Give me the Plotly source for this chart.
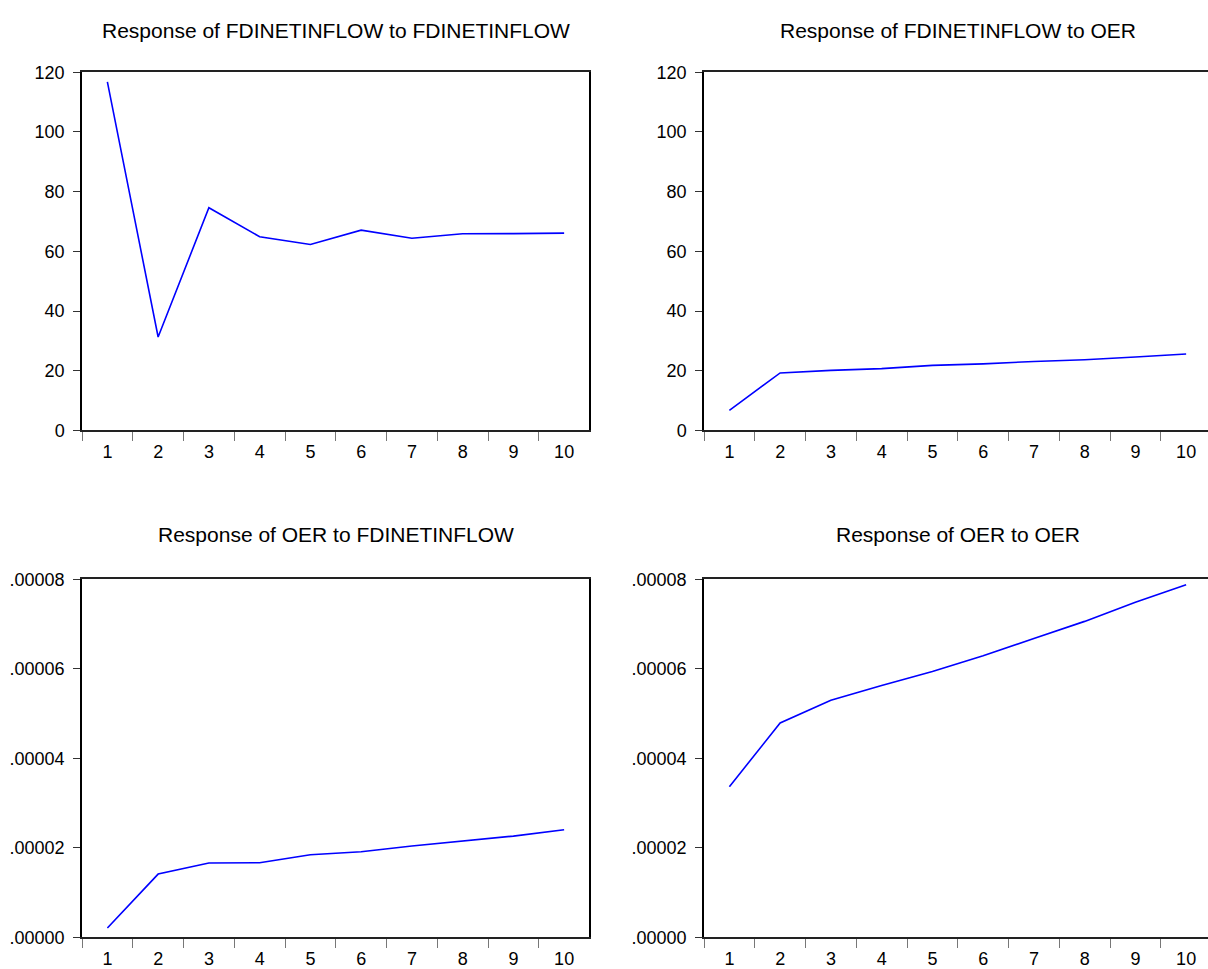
import plotly.graph_objects as go

periods = ["1", "2", "3", "4", "5", "6", "7", "8", "9", "10"]

fdi_to_fdi = [116.8, 31.3, 74.6, 64.9, 62.3, 67.1, 64.4, 65.9, 65.95, 66.1]
fdi_to_oer = [6.7, 19.25, 20.1, 20.7, 21.8, 22.3, 23.1, 23.7, 24.6, 25.6]
oer_to_fdi = [2.09e-6, 1.415e-5, 1.661e-5, 1.669e-5, 1.847e-5, 1.914e-5,
              2.041e-5, 2.153e-5, 2.264e-5, 2.406e-5]
oer_to_oer = [3.367e-5, 4.79e-5, 5.30e-5, 5.63e-5, 5.94e-5, 6.29e-5,
              6.68e-5, 7.06e-5, 7.49e-5, 7.88e-5]

titles = ["Response of FDINETINFLOW to FDINETINFLOW",
          "Response of FDINETINFLOW to OER",
          "Response of OER to FDINETINFLOW",
          "Response of OER to OER"]

top_ticks = [0, 20, 40, 60, 80, 100, 120]
top_ticktext = ["0", "20", "40", "60", "80", "100", "120"]
bot_ticks = [0, 2e-5, 4e-5, 6e-5, 8e-5]
bot_ticktext = [".00000", ".00002", ".00004", ".00006", ".00008"]

W, H = 1208, 969
FONT = "Liberation Sans, Arial, sans-serif"

# panel boxes in pixels (left, right, top, bottom)
boxes = [(82, 589, 64, 432), (704, 1208, 64, 432),
         (82, 589, 585, 953), (704, 1208, 585, 953)]
title_y = [21, 21, 539, 539]
cat_w = 50.75
series = [fdi_to_fdi, fdi_to_oer, oer_to_fdi, oer_to_oer]

fig = go.Figure()
layout = dict(width=W, height=H, margin=dict(l=0, r=0, t=0, b=0),
              paper_bgcolor="white", plot_bgcolor="white",
              showlegend=False, annotations=[])

for i, (box, ys) in enumerate(zip(boxes, series)):
    l, r, t, b = box
    n = "" if i == 0 else str(i + 1)
    fig.add_trace(go.Scatter(x=periods, y=ys, mode="lines",
                             line=dict(color="#0000FF", width=1.6),
                             xaxis="x" + n, yaxis="y" + n))
    right_cat = -0.5 + (r - l) / cat_w
    xdom = [l / W, r / W]
    ydom = [1 - b / H, 1 - t / H]
    layout["xaxis" + n] = dict(
        domain=xdom, anchor="y" + n, type="category",
        range=[-0.5, right_cat], showgrid=False, zeroline=False,
        showline=True, linecolor="#222222", linewidth=1.5, mirror=True,
        ticks="outside", tickson="boundaries", ticklen=9, tickwidth=1,
        tickcolor="#777777", ticklabelstandoff=4,
        tickfont=dict(family=FONT, size=18, color="black"),
        fixedrange=True)
    top = i < 2
    layout["yaxis" + n] = dict(
        domain=ydom, anchor="x" + n,
        range=[0, 120] if top else [0, 8e-5],
        tickvals=top_ticks if top else bot_ticks,
        ticktext=top_ticktext if top else bot_ticktext,
        showgrid=False, zeroline=False,
        showline=True, linecolor="black", linewidth=1.5,
        mirror=(i % 2 == 0),
        ticks="outside", ticklen=7, tickwidth=1, tickcolor="#333333",
        ticklabelstandoff=5,
        tickfont=dict(family=FONT, size=18, color="black"),
        fixedrange=True)
    cx = (l + (l + 10 * cat_w)) / 2
    layout["annotations"].append(dict(
        text=titles[i], x=cx / W, y=1 - title_y[i] / H,
        xref="paper", yref="paper",
        xanchor="center", yanchor="middle", showarrow=False,
        font=dict(family=FONT, size=21, color="black")))

fig.update_layout(**layout)
fig.write_html("out.html", config={"displayModeBar": False},
               post_script="document.body.style.margin='0';document.body.style.overflow='hidden';")
